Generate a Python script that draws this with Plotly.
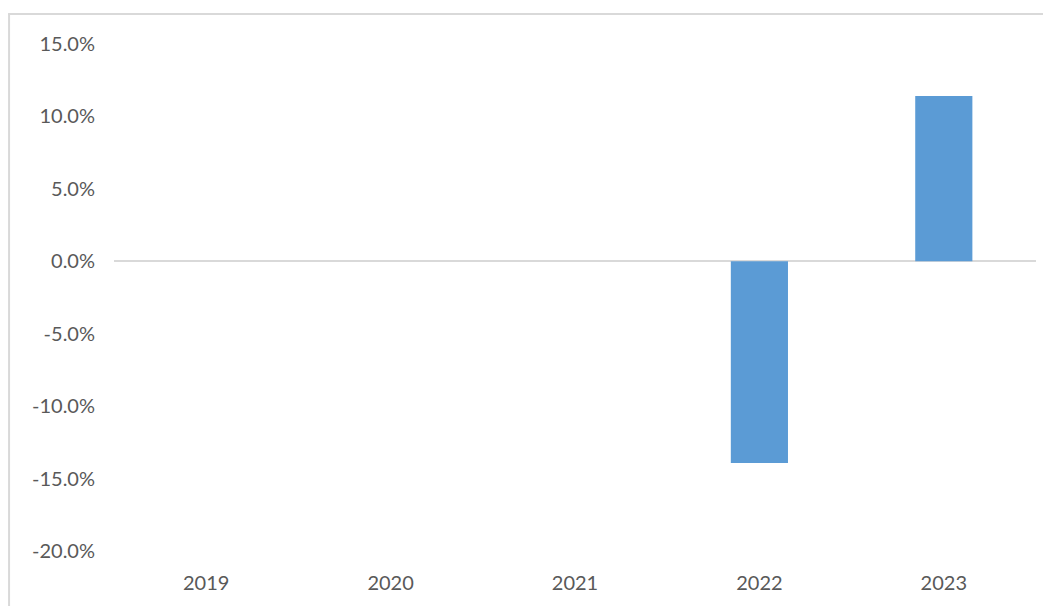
import plotly.graph_objects as go

years = ["2019", "2020", "2021", "2022", "2023"]
growth = [None, None, None, -0.1392, 0.1141]
y_ticks = [-0.20, -0.15, -0.10, -0.05, 0.0, 0.05, 0.10, 0.15]
y_tick_text = [f"{v * 100:.1f}%" for v in y_ticks]

OFF = 8  # page body margin
W, H = 1051 - OFF, 606 - OFF
L, R, T, B = 114 - OFF, 14.5, 44 - OFF, 55
pw, ph = W - L - R, H - T - B

def px_x(px):
    return (px - OFF - L) / pw

def px_y(py):
    return (H - B - (py - OFF)) / ph

fig = go.Figure(go.Bar(
    x=years, y=growth, width=0.31,
    marker=dict(color="#5b9bd5", line=dict(width=0)),
    hoverinfo="skip",
))

border = "#d9d9d9"
fig.update_layout(
    width=W, height=H,
    margin=dict(l=L, r=R, t=T, b=B),
    paper_bgcolor="white", plot_bgcolor="white",
    font=dict(family="Lato, Carlito, Calibri, sans-serif", size=20, color="#595959"),
    showlegend=False,
    shapes=[
        dict(type="line", xref="paper", yref="paper",
             x0=px_x(8), x1=px_x(1060), y0=px_y(14), y1=px_y(14),
             line=dict(color=border, width=2)),
        dict(type="line", xref="paper", yref="paper",
             x0=px_x(9), x1=px_x(9), y0=px_y(14), y1=px_y(620),
             line=dict(color=border, width=2)),
    ],
)
fig.update_xaxes(
    type="category", showgrid=False, showline=False, zeroline=False,
    ticks="", ticklabelstandoff=18,
)
fig.update_yaxes(
    range=[-0.20, 0.15], tickvals=y_ticks, ticktext=y_tick_text,
    showgrid=False, showline=False, zeroline=True,
    zerolinecolor=border, zerolinewidth=2,
    ticks="", ticklabelstandoff=18,
)

fig.write_html("out.html")
